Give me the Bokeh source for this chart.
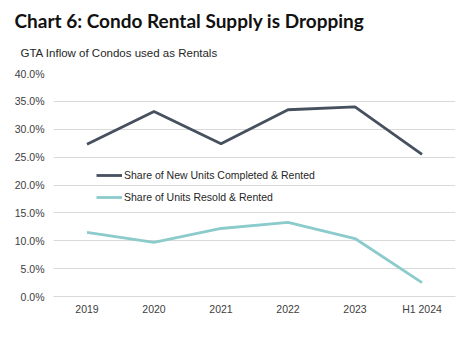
from bokeh.plotting import figure
from bokeh.models import Title, Legend, LegendItem, NumeralTickFormatter, FixedTicker, Range1d
from bokeh.embed import file_html
from bokeh.resources import INLINE

categories = ["2019", "2020", "2021", "2022", "2023", "H1 2024"]
new_units = [0.273, 0.332, 0.274, 0.335, 0.340, 0.255]
resold_units = [0.115, 0.097, 0.122, 0.133, 0.104, 0.025]
y_ticks = [0.0, 0.05, 0.10, 0.15, 0.20, 0.25, 0.30, 0.35, 0.40]

p = figure(width=475, height=341, x_range=categories, y_range=Range1d(0, 0.40),
           output_backend="svg", toolbar_location=None,
           min_border_left=53, min_border_right=20, min_border_top=73, min_border_bottom=45)
p.title = None
p.outline_line_color = None
p.background_fill_color = "white"
p.border_fill_color = "white"

dark = p.line(categories, new_units, line_color="#46505e", line_width=2.8)
light = p.line(categories, resold_units, line_color="#8ccbcb", line_width=2.8)

p.yaxis.ticker = FixedTicker(ticks=y_ticks)
p.yaxis.formatter = NumeralTickFormatter(format="0.0%")
p.yaxis.axis_line_color = None
p.yaxis.major_tick_line_color = None
p.yaxis.minor_tick_line_color = None
p.yaxis.major_label_text_font = "Liberation Sans"
p.yaxis.major_label_text_font_size = "10.5px"
p.yaxis.major_label_text_color = "#404040"
p.yaxis.major_label_standoff = 3

p.xaxis.axis_line_color = "#d9d9d9"
p.xaxis.major_tick_line_color = None
p.xaxis.minor_tick_line_color = None
p.xaxis.major_label_text_font = "Liberation Sans"
p.xaxis.major_label_text_font_size = "10.5px"
p.xaxis.major_label_text_color = "#404040"
p.xaxis.major_label_standoff = 0

p.xgrid.grid_line_color = None
p.ygrid.grid_line_color = "#d9d9d9"
p.ygrid.grid_line_width = 1

legend = Legend(items=[LegendItem(label="Share of New Units Completed & Rented", renderers=[dark]),
                       LegendItem(label="Share of Units Resold & Rented", renderers=[light])],
                location=(43, 88), padding=0, margin=0, spacing=0,
                glyph_width=26, glyph_height=22, label_height=22, label_standoff=2,
                label_text_font="Liberation Sans", label_text_font_size="10.5px",
                label_text_color="#262626", background_fill_alpha=0, border_line_color=None)
p.add_layout(legend, "center")

sub = Title(text="GTA Inflow of Condos used as Rentals", text_font="Liberation Sans",
            text_font_size="11.5px", text_font_style="normal", text_color="#262626",
            offset=-33, standoff=30)
main = Title(text="Chart 6: Condo Rental Supply is Dropping", text_font="Lato",
             text_font_size="19px", text_font_style="bold", text_color="#111111",
             offset=-39, standoff=-5)
p.add_layout(sub, "above")
p.add_layout(main, "above")

open("out.html", "w").write(file_html(p, INLINE))
